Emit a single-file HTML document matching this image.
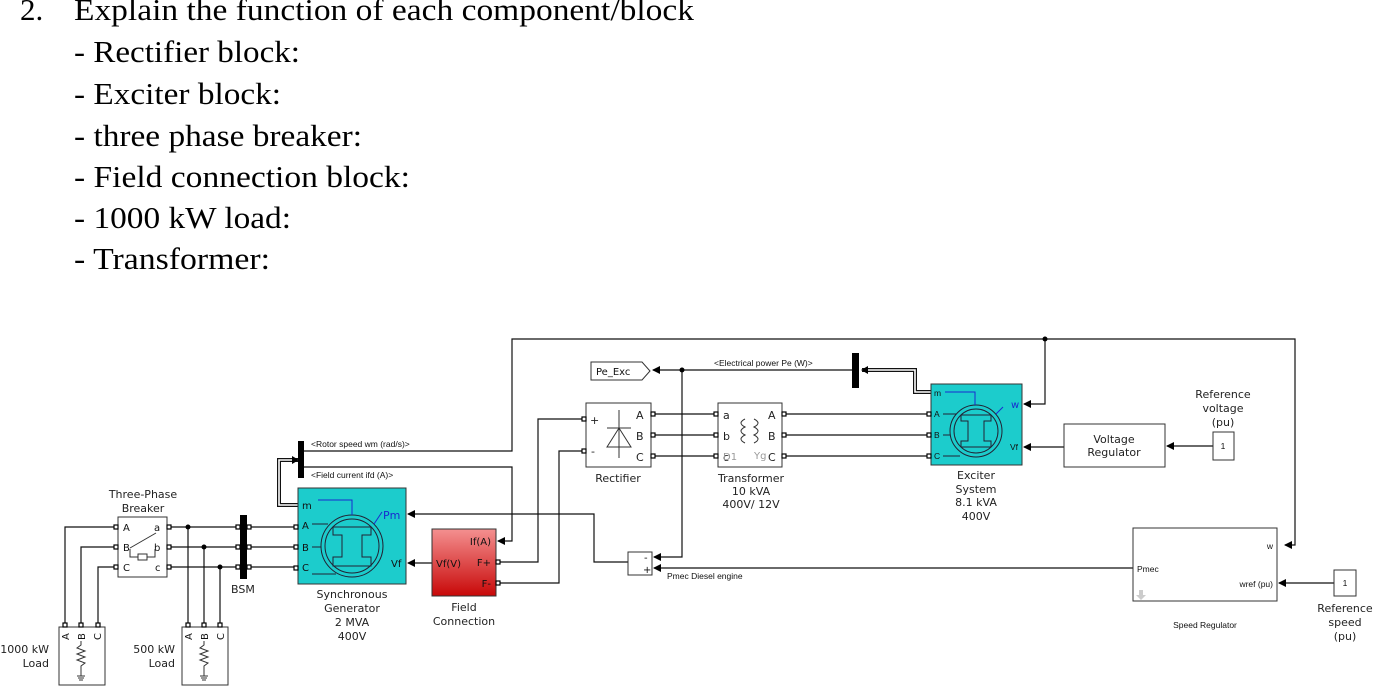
<!DOCTYPE html>
<html><head><meta charset="utf-8"><style>
html,body{margin:0;padding:0;background:#fff;}
svg{display:block;}
.s{font-family:"Liberation Serif",serif;font-size:31px;fill:#000;}
.t{font-family:"DejaVu Sans","Liberation Sans",sans-serif;font-size:11px;fill:#222;}
.p{font-family:"DejaVu Sans","Liberation Sans",sans-serif;font-size:10px;fill:#111;}
.sm{font-family:"Liberation Sans",sans-serif;font-size:8.5px;fill:#111;}
</style></head><body>
<svg width="1390" height="698" viewBox="0 0 1390 698" xmlns="http://www.w3.org/2000/svg">
<defs>
<marker id="a" markerWidth="8" markerHeight="8" refX="7" refY="4" orient="auto" markerUnits="userSpaceOnUse"><path d="M0,0 L8,4 L0,8 z" fill="#000"/></marker>
<linearGradient id="rg" x1="0" y1="0" x2="0" y2="1"><stop offset="0" stop-color="#f49090"/><stop offset="1" stop-color="#c80808"/></linearGradient>
</defs>
<text class="s" x="20" y="20">2.</text>
<text class="s" x="74" y="20" textLength="620" lengthAdjust="spacingAndGlyphs">Explain the function of each component/block</text>
<text class="s" x="74" y="62" textLength="226" lengthAdjust="spacingAndGlyphs">- Rectifier block:</text>
<text class="s" x="74" y="104" textLength="207" lengthAdjust="spacingAndGlyphs">- Exciter block:</text>
<text class="s" x="74" y="146" textLength="288" lengthAdjust="spacingAndGlyphs">- three phase breaker:</text>
<text class="s" x="74" y="187" textLength="336" lengthAdjust="spacingAndGlyphs">- Field connection block:</text>
<text class="s" x="74" y="228" textLength="217" lengthAdjust="spacingAndGlyphs">- 1000 kW load:</text>
<text class="s" x="74" y="269" textLength="196" lengthAdjust="spacingAndGlyphs">- Transformer:</text>

<g stroke="#111" stroke-width="1.2" fill="none">
<polyline points="302,451 512,451 512,339 1295,339 1295,545 1285,545" marker-end="url(#a)"/>
<polyline points="1045,339 1045,404 1024,404" marker-end="url(#a)"/>
<polyline points="302,467 512,467 512,541 498,541" marker-end="url(#a)"/>
<polyline points="586,419 538,419 538,562 496,562"/>
<polyline points="586,451 559,451 559,583 496,583"/>
<polyline points="628,562 594,562 594,514 408,514" marker-end="url(#a)"/>
<line x1="432" y1="563" x2="408" y2="563" marker-end="url(#a)"/>
<line x1="852" y1="370" x2="653" y2="370" marker-end="url(#a)"/>
<polyline points="682,370 682,557 654,557" marker-end="url(#a)"/>
<line x1="1133" y1="568" x2="654" y2="568" marker-end="url(#a)"/>
<line x1="651" y1="414" x2="718" y2="414"/><line x1="651" y1="435" x2="718" y2="435"/><line x1="651" y1="456" x2="718" y2="456"/>
<line x1="782" y1="414" x2="931" y2="414"/><line x1="782" y1="435" x2="931" y2="435"/><line x1="782" y1="456" x2="931" y2="456"/>
<line x1="1064" y1="447" x2="1024" y2="447" marker-end="url(#a)"/>
<line x1="1213" y1="446" x2="1167" y2="446" marker-end="url(#a)"/>
<line x1="1334" y1="583" x2="1279" y2="583" marker-end="url(#a)"/>
<polyline points="118,527 65,527 65,627"/><polyline points="118,547 81,547 81,627"/><polyline points="118,567 98,567 98,627"/>
<line x1="167" y1="527" x2="298" y2="527"/><line x1="167" y1="547" x2="298" y2="547"/><line x1="167" y1="567" x2="298" y2="567"/>
<line x1="188" y1="527" x2="188" y2="627"/><line x1="204" y1="547" x2="204" y2="627"/><line x1="220" y1="567" x2="220" y2="627"/>
</g>
<g fill="none">
<polyline points="298,505 279,505 279,460 298,460" stroke="#111" stroke-width="4"/>
<polyline points="298,505 279,505 279,460 298,460" stroke="#fff" stroke-width="1.6"/>
<polyline points="931,392 915,392 915,370 862,370" stroke="#111" stroke-width="4"/>
<polyline points="931,392 915,392 915,370 862,370" stroke="#fff" stroke-width="1.6"/>
</g>
<path d="M292,456 L299,460 L292,464z M868,366 L861,370 L868,374z"/>
<g fill="#000"><circle cx="1045" cy="339" r="2.5"/><circle cx="682" cy="370" r="2.5"/><circle cx="188" cy="527" r="2.5"/><circle cx="204" cy="547" r="2.5"/><circle cx="220" cy="567" r="2.5"/></g>
<rect x="298" y="441" width="6" height="37" fill="#000"/>
<rect x="852" y="353" width="7" height="35" fill="#000"/>
<rect x="240" y="515" width="7" height="64" fill="#000"/>
<text class="t" x="231" y="593">BSM</text>
<text class="sm" x="311" y="447">&lt;Rotor speed  wm (rad/s)&gt;</text>
<text class="sm" x="311" y="478">&lt;Field current  ifd (A)&gt;</text>
<text class="sm" x="714" y="366">&lt;Electrical power  Pe (W)&gt;</text>
<text class="sm" x="667" y="579">Pmec Diesel engine</text>

<rect x="118" y="517" width="49" height="60" fill="#fff" stroke="#333"/>
<text class="p" x="123" y="531">A</text><text class="p" x="123" y="551">B</text><text class="p" x="123" y="571">C</text>
<text class="p" x="154" y="531">a</text><text class="p" x="154" y="551">b</text><text class="p" x="155" y="571">c</text>
<line x1="130" y1="548" x2="156" y2="533" stroke="#333"/>
<polyline points="130,549 130,557 155,557 155,549" fill="none" stroke="#333"/>
<rect x="138" y="554" width="9" height="6" fill="#fff" stroke="#333"/>
<text class="t" x="143" y="498" text-anchor="middle">Three-Phase</text>
<text class="t" x="143" y="512" text-anchor="middle">Breaker</text>

<g fill="#fff" stroke="#333">
<rect x="59" y="627" width="46" height="58"/><rect x="182" y="627" width="46" height="58"/>
</g>
<text transform="translate(69,640) rotate(-90)" class="p">A</text><text transform="translate(85,640) rotate(-90)" class="p">B</text><text transform="translate(101,640) rotate(-90)" class="p">C</text>
<text transform="translate(192,640) rotate(-90)" class="p">A</text><text transform="translate(208,640) rotate(-90)" class="p">B</text><text transform="translate(224,640) rotate(-90)" class="p">C</text>
<g fill="none" stroke="#333">
<polyline points="81,641 81,645 77,648 85,651 77,654 85,657 77,660 85,663 81,666 81,676"/>
<line x1="77" y1="676" x2="85" y2="676"/><line x1="78" y1="678" x2="84" y2="678"/><line x1="79" y1="680" x2="83" y2="680"/>
<polyline points="204,641 204,645 200,648 208,651 200,654 208,657 200,660 208,663 204,666 204,676"/>
<line x1="200" y1="676" x2="208" y2="676"/><line x1="201" y1="678" x2="207" y2="678"/><line x1="202" y1="680" x2="206" y2="680"/>
</g>
<text class="t" x="49" y="653" text-anchor="end">1000 kW</text><text class="t" x="49" y="667" text-anchor="end">Load</text>
<text class="t" x="175" y="653" text-anchor="end">500 kW</text><text class="t" x="175" y="667" text-anchor="end">Load</text>

<rect x="298" y="488" width="108" height="96" fill="#1ccccc" stroke="#333"/>
<text class="p" x="302" y="509">m</text><text class="p" x="302" y="529">A</text><text class="p" x="302" y="551">B</text><text class="p" x="302" y="571">C</text>
<text class="p" x="391" y="567">Vf</text>
<text class="t" x="383" y="519" style="fill:#1a2ad0">Pm</text>
<g fill="none" stroke="#223">
<circle cx="352" cy="546" r="31"/><circle cx="352" cy="546" r="27"/>
<path d="M333,527 L371,527 L371,535 L362,535 L362,557 L371,557 L371,566 L333,566 L333,557 L342,557 L342,535 L333,535 Z"/>
<line x1="312" y1="524" x2="328" y2="524"/><line x1="312" y1="547" x2="321" y2="547"/><line x1="312" y1="574" x2="336" y2="574"/>
</g>
<polyline points="318,500 352,500 352,515" fill="none" stroke="#1a2ad0"/>
<line x1="374" y1="524" x2="382" y2="512" stroke="#1a2ad0"/>
<text class="t" x="352" y="598" text-anchor="middle">Synchronous</text>
<text class="t" x="352" y="612" text-anchor="middle">Generator</text>
<text class="t" x="352" y="626" text-anchor="middle">2 MVA</text>
<text class="t" x="352" y="640" text-anchor="middle">400V</text>

<rect x="432" y="529" width="64" height="67" fill="url(#rg)" stroke="#333"/>
<text class="p" x="436" y="567">Vf(V)</text>
<text class="p" x="491" y="545" text-anchor="end">If(A)</text>
<text class="p" x="491" y="566" text-anchor="end">F+</text>
<text class="p" x="491" y="587" text-anchor="end">F-</text>
<text class="t" x="464" y="611" text-anchor="middle">Field</text>
<text class="t" x="464" y="625" text-anchor="middle">Connection</text>

<rect x="628" y="552" width="24" height="23" fill="#fff" stroke="#333"/>
<text class="p" x="644" y="561">-</text><text class="p" x="643" y="573">+</text>

<path d="M591,362 L642,362 L650,371 L642,380 L591,380 Z" fill="#fff" stroke="#333"/>
<text class="p" x="596" y="375">Pe_Exc</text>

<rect x="586" y="403" width="65" height="64" fill="#fff" stroke="#333"/>
<text class="t" x="590" y="424">+</text><text class="t" x="591" y="455">-</text>
<text class="t" x="636" y="419">A</text><text class="t" x="636" y="440">B</text><text class="t" x="636" y="461">C</text>
<g stroke="#333" fill="none"><line x1="619" y1="410" x2="619" y2="458"/><line x1="607" y1="428" x2="631" y2="428"/><path d="M607,447 L631,447 L619,428 Z"/></g>
<text class="t" x="618" y="482" text-anchor="middle">Rectifier</text>

<rect x="718" y="403" width="64" height="64" fill="#fff" stroke="#333"/>
<text class="t" x="723" y="419">a</text><text class="t" x="723" y="440">b</text><text class="t" x="723" y="461">c</text>
<text class="t" x="768" y="419">A</text><text class="t" x="768" y="440">B</text><text class="t" x="768" y="461">C</text>
<text class="p" x="723" y="460" style="fill:#999">D1</text><text class="p" x="754" y="459" style="fill:#999">Yg</text>
<g fill="none" stroke="#333"><path d="M745,419 q-8,4 0,8 q-8,4 0,8 q-8,4 0,8"/><path d="M754,419 q8,4 0,8 q8,4 0,8 q8,4 0,8"/></g>
<text class="t" x="751" y="482" text-anchor="middle">Transformer</text>
<text class="t" x="751" y="495" text-anchor="middle">10 kVA</text>
<text class="t" x="751" y="508" text-anchor="middle">400V/ 12V</text>

<rect x="931" y="384" width="91" height="81" fill="#1ccccc" stroke="#333"/>
<text class="sm" x="934" y="396">m</text><text class="sm" x="934" y="417">A</text><text class="sm" x="934" y="438">B</text><text class="sm" x="934" y="459">C</text>
<text class="p" x="1011" y="408" style="fill:#1a2ad0">w</text><text class="sm" x="1010" y="450">Vf</text>
<g fill="none" stroke="#223">
<circle cx="976" cy="431" r="26"/><circle cx="976" cy="431" r="22"/>
<path d="M961,415 L991,415 L991,421 L984,421 L984,441 L991,441 L991,447 L961,447 L961,441 L968,441 L968,421 L961,421 Z"/>
<line x1="943" y1="414" x2="956" y2="414"/><line x1="943" y1="435" x2="950" y2="435"/><line x1="943" y1="456" x2="960" y2="456"/>
</g>
<polyline points="945,392 975,392 975,405" fill="none" stroke="#1a2ad0"/>
<line x1="996" y1="414" x2="1003" y2="407" stroke="#1a2ad0"/>
<text class="t" x="976" y="479" text-anchor="middle">Exciter</text>
<text class="t" x="976" y="493" text-anchor="middle">System</text>
<text class="t" x="976" y="506" text-anchor="middle">8.1 kVA</text>
<text class="t" x="976" y="520" text-anchor="middle">400V</text>

<rect x="1064" y="424" width="101" height="43" fill="#fff" stroke="#333"/>
<text class="t" x="1114" y="443" text-anchor="middle">Voltage</text>
<text class="t" x="1114" y="456" text-anchor="middle">Regulator</text>
<rect x="1213" y="432" width="21" height="28" fill="#fff" stroke="#333"/>
<text class="sm" x="1223" y="449" text-anchor="middle">1</text>
<text class="t" x="1223" y="398" text-anchor="middle">Reference</text>
<text class="t" x="1223" y="412" text-anchor="middle">voltage</text>
<text class="t" x="1223" y="426" text-anchor="middle">(pu)</text>

<rect x="1133" y="528" width="144" height="73" fill="#fff" stroke="#333"/>
<text class="sm" x="1137" y="572">Pmec</text>
<text class="sm" x="1273" y="549" text-anchor="end">w</text>
<text class="sm" x="1273" y="587" text-anchor="end">wref (pu)</text>
<path d="M1139,590 L1143,590 L1143,595 L1146,595 L1141,600 L1136,595 L1139,595 Z" fill="#ccc"/>
<text class="sm" x="1205" y="628" text-anchor="middle">Speed Regulator</text>
<rect x="1334" y="570" width="22" height="26" fill="#fff" stroke="#333"/>
<text class="sm" x="1345" y="586" text-anchor="middle">1</text>
<text class="t" x="1345" y="612" text-anchor="middle">Reference</text>
<text class="t" x="1345" y="626" text-anchor="middle">speed</text>
<text class="t" x="1345" y="640" text-anchor="middle">(pu)</text>

<g fill="#fff" stroke="#000" stroke-width="1.2">
<rect x="114" y="525" width="4" height="4"/><rect x="114" y="545" width="4" height="4"/><rect x="114" y="565" width="4" height="4"/>
<rect x="167" y="525" width="4" height="4"/><rect x="167" y="545" width="4" height="4"/><rect x="167" y="565" width="4" height="4"/>
<rect x="236" y="525" width="4" height="4"/><rect x="236" y="545" width="4" height="4"/><rect x="236" y="565" width="4" height="4"/>
<rect x="247" y="525" width="4" height="4"/><rect x="247" y="545" width="4" height="4"/><rect x="247" y="565" width="4" height="4"/>
<rect x="294" y="525" width="4" height="4"/><rect x="294" y="545" width="4" height="4"/><rect x="294" y="566" width="4" height="4"/>
<rect x="63" y="623" width="4" height="4"/><rect x="79" y="623" width="4" height="4"/><rect x="96" y="623" width="4" height="4"/>
<rect x="186" y="623" width="4" height="4"/><rect x="202" y="623" width="4" height="4"/><rect x="218" y="623" width="4" height="4"/>
<rect x="496" y="560" width="4" height="4"/><rect x="496" y="581" width="4" height="4"/>
<rect x="582" y="417" width="4" height="4"/><rect x="582" y="449" width="4" height="4"/>
<rect x="651" y="412" width="4" height="4"/><rect x="651" y="433" width="4" height="4"/><rect x="651" y="454" width="4" height="4"/>
<rect x="714" y="412" width="4" height="4"/><rect x="714" y="433" width="4" height="4"/><rect x="714" y="454" width="4" height="4"/>
<rect x="782" y="412" width="4" height="4"/><rect x="782" y="433" width="4" height="4"/><rect x="782" y="454" width="4" height="4"/>
<rect x="927" y="412" width="4" height="4"/><rect x="927" y="433" width="4" height="4"/><rect x="927" y="454" width="4" height="4"/>
</g>
</svg>
</body></html>
